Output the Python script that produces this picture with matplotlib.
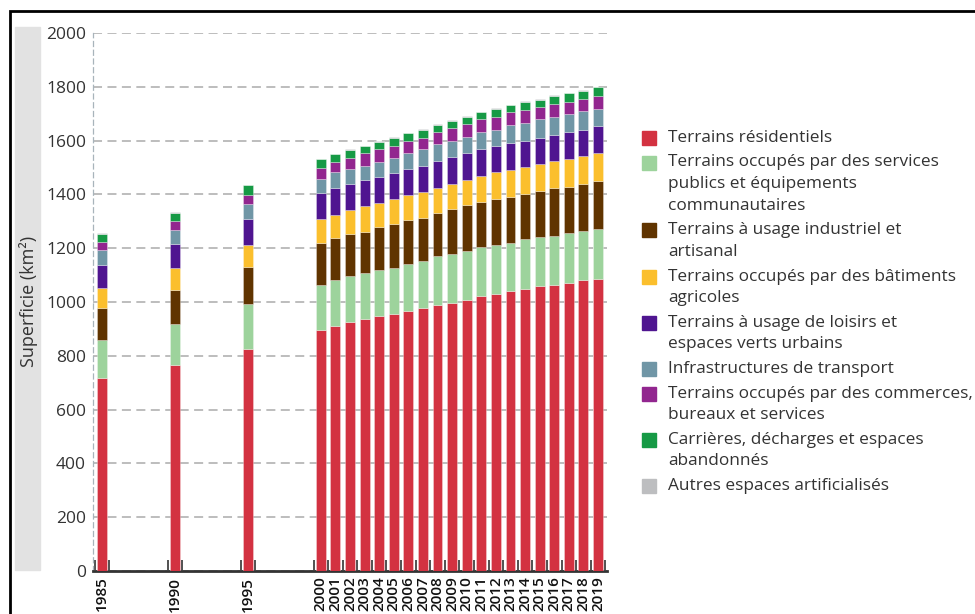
import matplotlib.pyplot as plt
from matplotlib.patches import Rectangle
import numpy as np

plt.rcParams['font.family'] = ['Open Sans', 'DejaVu Sans']

W, H = 975, 614

years = [1985, 1990, 1995] + list(range(2000, 2020))

residentiels = [719, 767, 825, 897, 910, 926, 936, 947, 957, 967, 978, 988, 998,
                1009, 1024, 1029, 1040, 1050, 1060, 1065, 1070, 1081, 1086]
services_publics = [141, 151, 166, 168, 171, 171, 173, 171, 171, 176, 176, 182, 182,
                    181, 181, 182, 181, 183, 182, 182, 187, 182, 187]
industriel = [119, 128, 139, 155, 156, 155, 153, 160, 161, 161, 160, 160, 165,
              171, 166, 171, 171, 169, 171, 176, 172, 176, 176]
agricoles = [73, 80, 81, 87, 88, 89, 94, 90, 93, 95, 94, 93, 94,
             93, 99, 100, 99, 99, 100, 100, 103, 104, 104]
loisirs = [87, 91, 99, 98, 98, 98, 98, 97, 98, 97, 98, 100, 100,
           99, 100, 97, 100, 99, 97, 99, 99, 98, 100]
transport = [53, 52, 54, 54, 60, 57, 52, 57, 57, 57, 64, 64, 61,
             62, 61, 62, 67, 67, 69, 66, 67, 69, 66]
commerces = [31, 32, 35, 40, 39, 41, 47, 48, 42, 47, 40, 44, 46,
             47, 48, 47, 47, 47, 45, 48, 47, 45, 46]
carrieres = [30, 31, 35, 32, 28, 28, 26, 26, 31, 27, 31, 27, 28,
             26, 26, 31, 26, 31, 28, 31, 31, 31, 33]
autres = [2] * 23

series = [residentiels, services_publics, industriel, agricoles, loisirs,
          transport, commerces, carrieres, autres]

legend_lines = [
    ["Terrains résidentiels"],
    ["Terrains occupés par des services", "publics et équipements", "communautaires"],
    ["Terrains à usage industriel et", "artisanal"],
    ["Terrains occupés par des bâtiments", "agricoles"],
    ["Terrains à usage de loisirs et", "espaces verts urbains"],
    ["Infrastructures de transport"],
    ["Terrains occupés par des commerces,", "bureaux et services"],
    ["Carrières, décharges et espaces", "abandonnés"],
    ["Autres espaces artificialisés"],
]

colors = ['#d33241', '#9dd39c', '#603400', '#fbbf2d', '#4f1590',
          '#7096a6', '#92268f', '#169a45', '#bdbec0']

yticks = list(range(0, 2001, 200))

fig = plt.figure(figsize=(W / 100, H / 100), dpi=100)

def fx(px):
    return px / W

def fy(py):
    return 1 - py / H

# outer black frame (cut by the right/bottom edges)
fig.patches.append(Rectangle((fx(10), fy(H + 20)), 2, fy(11) - fy(H + 20),
                             transform=fig.transFigure, fill=False,
                             edgecolor='black', linewidth=2))
# grey band behind the y label
fig.patches.append(Rectangle((fx(15), fy(570)), fx(40) - fx(15), fy(27) - fy(570),
                             transform=fig.transFigure, color='#e2e2e2', zorder=0))
fig.text(fx(28), fy(301), "Superficie (km²)", rotation=90, ha='center', va='center',
         fontsize=13, color='#333333')

ax = fig.add_axes([fx(93), fy(571), fx(607) - fx(93), fy(33) - fy(571)])

x = np.array(years, dtype=float)
bottom = np.zeros(len(years))
for vals, col in zip(series, colors):
    vals = np.array(vals, dtype=float)
    ax.bar(x, vals, bottom=bottom, width=0.68, color=col,
           edgecolor=(1, 1, 1, 0.35), linewidth=0.6, zorder=3)
    bottom += vals

ax.set_xlim(1984.383, 2019.617)
ax.set_ylim(0, 2000)
ax.set_yticks(yticks)
ax.set_yticklabels([str(v) for v in yticks], fontsize=12.5, color='#333333')
ax.tick_params(axis='y', length=0, pad=5)
ax.set_xticks(years)
ax.set_xticklabels([str(y) for y in years], rotation=90, fontsize=11,
                   color='#111111', va='top', fontweight='semibold')
ax.tick_params(axis='x', length=0, pad=4)
ax.set_xticks(sorted(set([y - 0.5 for y in years] + [y + 0.5 for y in years])), minor=True)
ax.tick_params(axis='x', which='minor', direction='in', length=8, width=1.2, color='#333333')

ax.grid(axis='y', linestyle=(0, (5, 3)), color='#b8b8b8', linewidth=1.3, zorder=0)
for s in ['top', 'right']:
    ax.spines[s].set_visible(False)
ax.spines['left'].set_linestyle((0, (4, 3)))
ax.spines['left'].set_color('#a8b4bb')
ax.spines['left'].set_linewidth(0.9)
ax.spines['bottom'].set_color('#333333')
ax.spines['bottom'].set_linewidth(2)

# legend drawn manually to keep square aligned to the first line
y = 138
line_h = 21.7
entry_gap = 24.5
for lines, col in zip(legend_lines, colors):
    fig.patches.append(Rectangle((fx(641.5), fy(y + 7)), fx(14), fy(0) - fy(14),
                                 transform=fig.transFigure, color=col))
    for i, t in enumerate(lines):
        fig.text(fx(668), fy(y + i * line_h), t, ha='left', va='center',
                 fontsize=12.4, color='#333333')
    y += (len(lines) - 1) * line_h + entry_gap

fig.savefig('out.png', dpi=100)
